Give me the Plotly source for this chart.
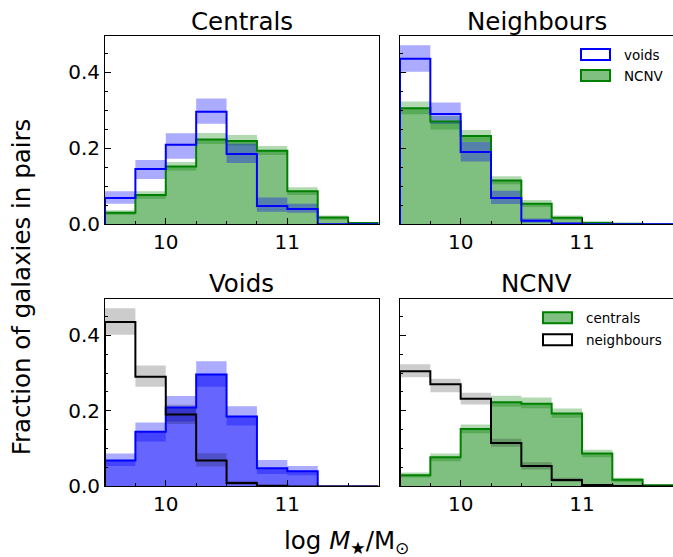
import plotly.graph_objects as go

# ---------------- data ----------------
bin_edges = [9.5, 9.75, 10.0, 10.25, 10.5, 10.75, 11.0, 11.25, 11.5, 11.75]

cen_voids = [0.069, 0.145, 0.209, 0.296, 0.185, 0.048, 0.040, 0.0, 0.0]
cen_voids_lo = [0.054, 0.119, 0.172, 0.264, 0.161, 0.033, 0.030, 0.0, 0.0]
cen_voids_hi = [0.087, 0.169, 0.239, 0.331, 0.212, 0.070, 0.054, 0.0, 0.0]

cen_ncnv = [0.030, 0.077, 0.152, 0.223, 0.219, 0.193, 0.087, 0.018, 0.003]
cen_ncnv_lo = [0.024, 0.067, 0.141, 0.211, 0.207, 0.182, 0.077, 0.012, 0.001]
cen_ncnv_hi = [0.037, 0.087, 0.164, 0.240, 0.235, 0.206, 0.097, 0.023, 0.005]

nei_voids = [0.435, 0.290, 0.190, 0.069, 0.009, 0.002, 0.0, 0.0, 0.0]
nei_voids_lo = [0.401, 0.264, 0.165, 0.053, 0.004, 0.0, 0.0, 0.0, 0.0]
nei_voids_hi = [0.471, 0.320, 0.216, 0.088, 0.015, 0.004, 0.0, 0.0, 0.0]

nei_ncnv = [0.305, 0.270, 0.232, 0.115, 0.054, 0.017, 0.004, 0.001, 0.0]
nei_ncnv_lo = [0.289, 0.249, 0.217, 0.105, 0.045, 0.012, 0.002, 0.0, 0.0]
nei_ncnv_hi = [0.323, 0.285, 0.248, 0.126, 0.064, 0.023, 0.006, 0.002, 0.0]

panel_titles = ["Centrals", "Neighbours", "Voids", "NCNV"]
x_tickvals = [10, 11]
y_tickvals = [0.0, 0.2, 0.4]

# ---------------- styles ----------------
BLUE = "rgb(0,0,255)"
GREEN = "rgb(0,128,0)"
BLACK = "rgb(0,0,0)"
BLUE_FILL = "rgba(0,0,255,0.6)"
BLUE_BAND = "rgba(0,0,255,0.33)"
GREEN_FILL = "rgba(0,128,0,0.5)"
GREEN_BAND = "rgba(0,128,0,0.3)"
GRAY_BAND = "rgba(0,0,0,0.2)"
FONT = "DejaVu Sans"

W = 673
SY = 1.0225          # vertical layout factor
H = round(557 * SY)


def px_x(x):
    return x / W


def px_y(y):
    return 1 - (y * SY) / H


fig = go.Figure()


def step_xy(vals):
    xs = [bin_edges[0]] + list(bin_edges)
    ys = [0.0] + list(vals) + [0.0]
    return xs, ys


def add_fill(vals, color, ax):
    xs, ys = step_xy(vals)
    fig.add_trace(go.Scatter(x=xs, y=ys, mode="lines", line=dict(width=0, shape="hv"),
                             fill="tozeroy", fillcolor=color, hoverinfo="skip",
                             showlegend=False, xaxis="x" + ax, yaxis="y" + ax))


def add_line(vals, color, ax):
    xs, ys = step_xy(vals)
    fig.add_trace(go.Scatter(x=xs, y=ys, mode="lines", line=dict(width=2, color=color, shape="hv"),
                             hoverinfo="skip", showlegend=False, xaxis="x" + ax, yaxis="y" + ax))


def add_band(lo, hi, color, ax):
    xs = list(bin_edges)
    lo_y = list(lo) + [lo[-1]]
    hi_y = list(hi) + [hi[-1]]
    fig.add_trace(go.Scatter(x=xs, y=lo_y, mode="lines", line=dict(width=0, shape="hv"),
                             hoverinfo="skip", showlegend=False, xaxis="x" + ax, yaxis="y" + ax))
    fig.add_trace(go.Scatter(x=xs, y=hi_y, mode="lines", line=dict(width=0, shape="hv"),
                             fill="tonexty", fillcolor=color, hoverinfo="skip",
                             showlegend=False, xaxis="x" + ax, yaxis="y" + ax))


# Panel 1: Centrals (voids line, NCNV filled)
add_fill(cen_ncnv, GREEN_FILL, "")
add_band(cen_ncnv_lo, cen_ncnv_hi, GREEN_BAND, "")
add_band(cen_voids_lo, cen_voids_hi, BLUE_BAND, "")
add_line(cen_ncnv, GREEN, "")
add_line(cen_voids, BLUE, "")

# Panel 2: Neighbours
add_fill(nei_ncnv, GREEN_FILL, "2")
add_band(nei_ncnv_lo, nei_ncnv_hi, GREEN_BAND, "2")
add_band(nei_voids_lo, nei_voids_hi, BLUE_BAND, "2")
add_line(nei_ncnv, GREEN, "2")
add_line(nei_voids, BLUE, "2")

# Panel 3: Voids (centrals filled blue, neighbours black line)
add_fill(cen_voids, BLUE_FILL, "3")
add_band(cen_voids_lo, cen_voids_hi, BLUE_BAND, "3")
add_band(nei_voids_lo, nei_voids_hi, GRAY_BAND, "3")
add_line(cen_voids, BLUE, "3")
add_line(nei_voids, BLACK, "3")

# Panel 4: NCNV
add_fill(cen_ncnv, GREEN_FILL, "4")
add_band(cen_ncnv_lo, cen_ncnv_hi, GREEN_BAND, "4")
add_band(nei_ncnv_lo, nei_ncnv_hi, GRAY_BAND, "4")
add_line(cen_ncnv, GREEN, "4")
add_line(nei_ncnv, BLACK, "4")

# ---------------- axes ----------------
xdom_l = [px_x(105), px_x(378.5)]
xdom_r = [px_x(400), 1.0]
ydom_t = [px_y(224), px_y(36)]
ydom_b = [px_y(486), px_y(299)]


def xaxis(domain, anchor):
    return dict(domain=domain, anchor=anchor, range=[9.5, 11.75], showgrid=False, zeroline=False,
                showline=True, linecolor=BLACK, linewidth=1, mirror=True,
                ticks="inside", ticklen=6, tickwidth=1, tickcolor=BLACK,
                tickvals=x_tickvals, ticktext=[str(v) for v in x_tickvals],
                tickfont=dict(family=FONT, size=20, color=BLACK),
                minor=dict(ticks="inside", ticklen=3, tickwidth=1, tickcolor=BLACK,
                           tick0=9.5, dtick=0.25, showgrid=False))


def yaxis(domain, anchor, labels, mirror):
    return dict(domain=domain, anchor=anchor, range=[0, 0.495], showgrid=False, zeroline=False,
                showline=True, linecolor=BLACK, linewidth=1, mirror=mirror,
                ticks="inside", ticklen=6, tickwidth=1, tickcolor=BLACK,
                tickvals=y_tickvals, ticktext=["%.1f" % v for v in y_tickvals],
                showticklabels=labels,
                tickfont=dict(family=FONT, size=20, color=BLACK),
                minor=dict(ticks="inside", ticklen=3, tickwidth=1, tickcolor=BLACK,
                           tick0=0, dtick=0.05, showgrid=False))


fig.update_layout(
    width=W, height=H, margin=dict(l=0, r=0, t=0, b=0),
    paper_bgcolor="white", plot_bgcolor="white", showlegend=False,
    xaxis=xaxis(xdom_l, "y"), yaxis=yaxis(ydom_t, "x", True, True),
    xaxis2=xaxis(xdom_r, "y2"), yaxis2=yaxis(ydom_t, "x2", False, False),
    xaxis3=xaxis(xdom_l, "y3"), yaxis3=yaxis(ydom_b, "x3", True, True),
    xaxis4=xaxis(xdom_r, "y4"), yaxis4=yaxis(ydom_b, "x4", False, False),
)

# ---------------- titles & labels ----------------
annotations = []
title_pos = [(241.5, 21), (536.5, 21), (241.5, 283), (536.5, 283)]
for t, (tx, ty) in zip(panel_titles, title_pos):
    annotations.append(dict(text=t, x=px_x(tx), y=px_y(ty), xref="paper", yref="paper",
                            showarrow=False, xanchor="center", yanchor="middle",
                            font=dict(family=FONT, size=24.5, color=BLACK)))

annotations.append(dict(text="Fraction of galaxies in pairs", x=px_x(21), y=px_y(287),
                        xref="paper", yref="paper", showarrow=False, textangle=-90,
                        xanchor="center", yanchor="middle",
                        font=dict(family=FONT, size=24.5, color=BLACK)))
annotations.append(dict(text="log <i>M</i><sub>★</sub>/M<sub>⊙</sub>", x=px_x(347), y=px_y(541),
                        xref="paper", yref="paper", showarrow=False,
                        xanchor="center", yanchor="middle",
                        font=dict(family=FONT, size=24.5, color=BLACK)))

# ---------------- legends (drawn manually) ----------------
shapes = []
legend_items = [
    ("voids", "white", BLUE, 581, 49, 622),
    ("NCNV", GREEN_FILL, GREEN, 581, 70, 622),
    ("centrals", GREEN_FILL, GREEN, 543, 312, 584),
    ("neighbours", "white", BLACK, 543, 334, 584),
]
for label, fillc, linec, lx, ly, tx in legend_items:
    shapes.append(dict(type="rect", xref="paper", yref="paper",
                       x0=px_x(lx), x1=px_x(lx + 29), y0=px_y(ly + 11), y1=px_y(ly),
                       fillcolor=fillc, line=dict(color=linec, width=2)))
    annotations.append(dict(text=label, x=px_x(tx), y=px_y(ly + 5.5), xref="paper", yref="paper",
                            showarrow=False, xanchor="left", yanchor="middle",
                            font=dict(family=FONT, size=13.5, color=BLACK)))

fig.update_layout(annotations=annotations, shapes=shapes)

fig.write_html("out.html")
